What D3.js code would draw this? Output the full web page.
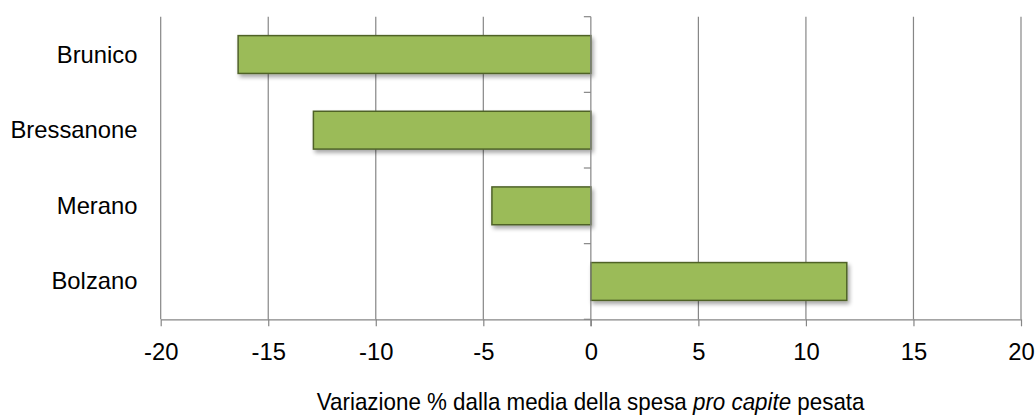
<!DOCTYPE html>
<html>
<head>
<meta charset="utf-8">
<script src="https://cdn.jsdelivr.net/npm/d3@7/dist/d3.min.js"></script>
<style>
  html, body { margin: 0; padding: 0; background: #fff; }
  svg { display: block; font-family: "Liberation Sans", Arial, sans-serif; }
</style>
</head>
<body>
<svg id="chart" width="1036" height="415"></svg>
<script>
// Percentage deviation from the weighted per-capita spending average
const categories = ["Brunico", "Bressanone", "Merano", "Bolzano"];
const values = [-16.4, -12.9, -4.6, 11.9];
const xTicks = [-20, -15, -10, -5, 0, 5, 10, 15, 20];
const axisTitle = ["Variazione % dalla media della spesa ", "pro capite", " pesata"];

const svg = d3.select("#chart");
const margin = { left: 160.7, right: 15, top: 16.7, bottom: 95.7 };
const W = 1036, H = 415;

const x = d3.scaleLinear().domain([-20, 20]).range([margin.left, W - margin.right]);
const y = d3.scaleBand().domain(categories).range([margin.top, H - margin.bottom]).paddingInner(0.5).paddingOuter(0.25);

const gridColor = "#868686";
const fontSize = 23.8;

// Drop shadow for the bars
const defs = svg.append("defs");
const f = defs.append("filter").attr("id", "shadow").attr("x", "-10%").attr("y", "-30%").attr("width", "130%").attr("height", "180%");
f.append("feGaussianBlur").attr("in", "SourceAlpha").attr("stdDeviation", 2.2);
f.append("feOffset").attr("dx", 2).attr("dy", 3).attr("result", "ob");
f.append("feComponentTransfer").append("feFuncA").attr("type", "linear").attr("slope", 0.35);
const m = f.append("feMerge");
m.append("feMergeNode");
m.append("feMergeNode").attr("in", "SourceGraphic");

// Vertical gridlines
svg.append("g").selectAll("line").data(xTicks.filter(d => d !== 0)).join("line")
  .attr("x1", d => x(d)).attr("x2", d => x(d))
  .attr("y1", margin.top).attr("y2", H - margin.bottom)
  .attr("stroke", gridColor).attr("stroke-width", 1.2);

// Bars
svg.append("g").selectAll("rect").data(categories).join("rect")
  .attr("x", (d, i) => x(Math.min(0, values[i])))
  .attr("width", (d, i) => Math.abs(x(values[i]) - x(0)))
  .attr("y", d => y(d))
  .attr("height", y.bandwidth())
  .attr("fill", "#9BBB59")
  .attr("stroke", "#4F6228")
  .attr("stroke-width", 1.5)
  .attr("filter", "url(#shadow)");

// Bottom axis
const xAxis = d3.axisBottom(x).tickValues(xTicks).tickSize(7).tickSizeOuter(0).tickFormat(d3.format("d"));
const gx = svg.append("g").attr("transform", `translate(0,${H - margin.bottom})`).call(xAxis);
gx.select(".domain").attr("stroke", gridColor).attr("stroke-width", 1.2);
gx.selectAll(".tick line").attr("stroke", gridColor).attr("stroke-width", 1.2);
gx.selectAll(".tick text").attr("font-size", fontSize).attr("fill", "#000")
  .attr("y", 0).attr("dy", 0).attr("transform", "translate(0,41)")
  .text(d => d < 0 ? "-" + Math.abs(d) : d);

// Vertical category axis crossing at zero, ticks at band boundaries
const bounds = d3.range(categories.length + 1).map(i => margin.top + i * (H - margin.bottom - margin.top) / categories.length);
const gy = svg.append("g");
gy.append("line").attr("x1", x(0)).attr("x2", x(0)).attr("y1", margin.top).attr("y2", H - margin.bottom + 7)
  .attr("stroke", gridColor).attr("stroke-width", 1.2);
gy.selectAll("line.t").data(bounds).join("line").attr("class", "t")
  .attr("x1", x(0) - 7).attr("x2", x(0)).attr("y1", d => d).attr("y2", d => d)
  .attr("stroke", gridColor).attr("stroke-width", 1.2);

// Category labels at left
svg.append("g").selectAll("text").data(categories).join("text")
  .attr("x", 137.5).attr("y", d => y(d) + y.bandwidth() / 2 + 8)
  .attr("text-anchor", "end")
  .attr("font-size", fontSize).attr("fill", "#000").text(d => d);

// Axis title, centred under the plot area in a slightly condensed width
const titleW = 548;
const titleCx = (x(-20) + x(20)) / 2;
const tg = svg.append("g");
const t = tg.append("text").attr("x", 0).attr("y", 0)
  .attr("font-size", fontSize).attr("fill", "#000");
t.append("tspan").text(axisTitle[0]);
t.append("tspan").attr("font-style", "italic").text(axisTitle[1]);
t.append("tspan").text(axisTitle[2]);
const natural = t.node().getComputedTextLength();
tg.attr("transform", `translate(${titleCx - titleW / 2},410) scale(${titleW / natural},1)`);
</script>
</body>
</html>
